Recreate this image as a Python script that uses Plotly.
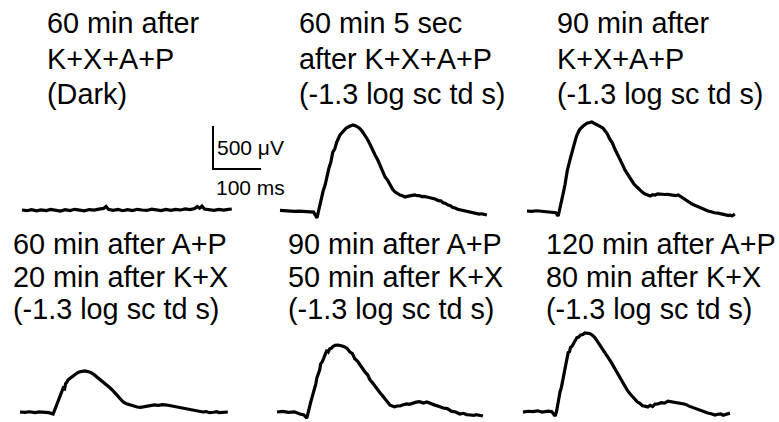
import plotly.graph_objects as go

# ---------------- data (time in ms from sweep start, amplitude in µV) ----------------
t_dark = [0, 10, 20, 30, 40, 50, 60, 70, 80, 90, 100, 110, 120, 130, 140, 150, 160, 170, 175, 180,
          190, 200, 210, 220, 230, 240, 250, 260, 270, 280, 290, 300, 310, 320, 330, 340, 350,
          360, 365, 370, 375, 380, 390, 400, 410, 420, 430, 437]
v_dark = [0, -8, 4, -10, 2, -6, 6, -4, -12, 3, -6, 8, -3, -10, 5, -2, 10, 18, 40, 8,
          -4, 6, -8, 4, -6, 8, 0, -5, 10, 2, -6, 6, -3, 8, 0, 12, 4,
          18, 40, 20, 45, 12, 4, -4, 6, -2, 8, 12]

t_kxap_5s = [0, 10, 20, 30, 40, 50, 60, 70, 77, 81, 85, 90, 94, 98, 102, 106, 110, 114, 118, 125, 132, 138,
             145, 152, 158, 165, 171, 177, 182, 188, 193, 198, 204, 209, 214, 219, 225, 230, 235, 240,
             245, 250, 255, 260, 265, 270, 276, 281, 286, 290, 295, 300, 308, 317, 323, 330, 335,
             340, 345, 350, 355, 360, 365, 370, 378, 385, 390, 395, 400, 405, 410, 415, 420, 425, 431]
v_kxap_5s = [8, 2, 0, -5, -2, -8, -6, -12, -81, 30, 120, 235, 302, 420, 500, 570, 686, 720, 800, 884, 930, 965,
             985, 1000, 990, 965, 930, 884, 835, 770, 720, 651, 590, 520, 470, 395, 350, 300, 250, 221,
             200, 185, 178, 163, 170, 175, 190, 186, 178, 180, 168, 170, 160, 151, 140, 120, 118,
             95, 88, 70, 62, 40, 35, 20, 10, 0, -12, -15, -20, -25, -30, -35, -32, -40, -47]

t_kxap_90 = [0, 10, 20, 27, 40, 52, 60, 65, 69, 72, 76, 79, 84, 90, 94, 97, 101, 104, 110, 117, 125, 135,
             145, 153, 158, 162, 167, 172, 178, 183, 188, 194, 199, 204, 210, 216, 222, 229, 235, 240,
             246, 252, 257, 262, 267, 272, 277, 281, 287, 293, 298, 304, 310, 315, 322, 330, 337,
             344, 352, 360, 368, 377, 384, 390, 398, 405, 412, 418, 423, 427, 433]
v_kxap_90 = [0, -5, 3, 0, -6, -12, -20, -58, 30, 120, 220, 302, 470, 605, 700, 760, 830, 884, 950, 988, 1020, 1035,
             1010, 980, 965, 942, 900, 840, 790, 721, 670, 600, 540, 477, 420, 370, 320, 279, 245, 220,
             198, 186, 175, 190, 185, 200, 195, 198, 192, 194, 190, 192, 180, 186, 160, 140, 110,
             81, 60, 40, 20, 0, -8, -20, -25, -35, -40, -50, -48, -58, -35]

t_ap60 = [0, 10, 20, 31, 40, 50, 60, 69, 72, 74, 77, 79, 82, 84, 87, 90, 93, 95, 98, 100, 105, 110, 115,
          119, 123, 127, 131, 135, 141, 147, 153, 160, 167, 174, 181, 188, 195, 202, 208, 215, 222,
          230, 237, 244, 251, 258, 265, 271, 280, 288, 297, 306, 314, 323, 331, 340, 350, 360, 370,
          381, 388, 395, 403, 410, 415, 420, 426, 433]
v_ap60 = [0, -4, 3, -6, 2, -4, -8, -23, 20, 40, 90, 116, 160, 200, 230, 279, 270, 330, 350, 372, 395, 420, 440,
          453, 465, 470, 468, 477, 470, 460, 440, 407, 385, 350, 320, 279, 240, 195, 160, 116, 95,
          80, 66, 58, 55, 62, 70, 70, 82, 78, 85, 81, 72, 65, 55, 47, 40, 25, 15,
          0, 5, -8, -3, 4, -8, -6, 2, 0]

t_ap90 = [0, 12, 24, 36, 48, 56, 62, 65, 67, 70, 73, 76, 78, 81, 83, 86, 89, 91, 94, 97, 99, 102, 104,
          107, 110, 113, 116, 121, 127, 134, 140, 146, 152, 157, 162, 168, 173, 178, 184, 189, 194,
          199, 204, 210, 215, 220, 225, 230, 235, 240, 245, 250, 256, 263, 270, 276, 283, 290, 297,
          305, 312, 320, 329, 338, 346, 355, 363, 372, 381, 388, 395, 403, 410, 415, 420, 425, 429]
v_ap90 = [0, 6, -4, 2, -23, -35, -70, -20, 40, 110, 163, 230, 280, 330, 395, 440, 490, 560, 581, 620, 650, 700, 721,
          700, 735, 740, 760, 775, 779, 770, 760, 740, 698, 680, 620, 590, 547, 500, 460, 430, 372,
          340, 300, 260, 221, 190, 150, 110, 81, 70, 60, 70, 70, 85, 95, 90, 105, 115, 120,
          105, 116, 95, 80, 65, 47, 40, 10, 0, -23, -15, -30, -35, -40, -30, -35, -45, -47]

t_ap120 = [0, 10, 20, 30, 40, 52, 60, 67, 70, 72, 75, 77, 80, 83, 86, 88, 91, 94, 97, 99, 102, 104, 108,
           112, 116, 120, 125, 129, 135, 140, 145, 150, 155, 160, 166, 171, 176, 182, 187, 192, 197,
           202, 207, 212, 217, 222, 228, 233, 238, 244, 249, 254, 260, 265, 270, 275, 281, 288, 295,
           302, 310, 320, 329, 338, 346, 355, 364, 373, 379, 385, 392, 400, 406, 412, 417, 422, 427, 431]
v_ap120 = [0, 10, 5, 15, 0, 12, 4, -47, 10, 80, 160, 233, 290, 380, 440, 500, 600, 698, 710, 760, 770, 791, 830,
           872, 880, 905, 910, 930, 925, 920, 900, 872, 830, 790, 745, 698, 650, 600, 550, 500, 450,
           400, 350, 302, 260, 220, 180, 151, 120, 100, 75, 70, 60, 80, 65, 93, 95, 110, 105,
           128, 120, 115, 105, 93, 70, 50, 30, 12, 0, -10, -20, -35, -25, -20, -38, -30, -25, -12]

panel_times = [t_dark, t_kxap_5s, t_kxap_90, t_ap60, t_ap90, t_ap120]
panel_values = [v_dark, v_kxap_5s, v_kxap_90, v_ap60, v_ap90, v_ap120]

panel_labels = [
    ["60 min after", "K+X+A+P", "(Dark)"],
    ["60 min 5 sec", "after K+X+A+P", "(-1.3 log sc td s)"],
    ["90 min after", "K+X+A+P", "(-1.3 log sc td s)"],
    ["60 min after A+P", "20 min after K+X", "(-1.3 log sc td s)"],
    ["90 min after A+P", "50 min after K+X", "(-1.3 log sc td s)"],
    ["120 min after A+P", "80 min after K+X", "(-1.3 log sc td s)"],
]

scale_time_ms = 100
scale_amp_uv = 500
scale_labels = ["500 μV", "100 ms"]

# ---------------- layout geometry ----------------
W, H = 779, 422
PX_PER_MS = 0.48
PX_PER_UV = 0.086
FONT = "Liberation Sans, Arial, Helvetica, sans-serif"
TXT = 28.8

# (sweep start x px, baseline y px, text left x px, text line y px list, right extent px)
geom = [
    (22, 210, 45, [23.5, 58.5, 93.5], 247),
    (280, 211, 297, [23.5, 58.5, 93.5], 235),
    (527, 211, 555, [23.5, 58.5, 93.5], 235),
    (20, 412, 11, [244, 276.5, 309], 235),
    (277, 412, 286, [244, 276.5, 309], 235),
    (523, 413, 544, [244, 276.5, 309], 235),
]

fig = go.Figure()
layout = dict(
    width=W, height=H,
    margin=dict(l=0, r=0, t=0, b=0),
    paper_bgcolor="white", plot_bgcolor="rgba(0,0,0,0)",
    showlegend=False,
    font=dict(family=FONT, color="black"),
)
annotations = []

LEFT, BELOW, ABOVE = 10, 10, 100
for i, ((xs, yb, tx, tys, right), ts, vs, lines) in enumerate(zip(geom, panel_times, panel_values, panel_labels)):
    n = i + 1
    xa = "x" if n == 1 else f"x{n}"
    ya = "y" if n == 1 else f"y{n}"
    fig.add_trace(go.Scatter(x=ts, y=vs, mode="lines", xaxis=xa, yaxis=ya,
                             line=dict(color="black", width=3.2), hoverinfo="skip"))
    layout["xaxis" if n == 1 else f"xaxis{n}"] = dict(
        domain=[(xs - LEFT) / W, (xs + right) / W],
        range=[-LEFT / PX_PER_MS, right / PX_PER_MS],
        visible=False, anchor=ya)
    layout["yaxis" if n == 1 else f"yaxis{n}"] = dict(
        domain=[max(0, 1 - (yb + BELOW) / H), 1 - (yb - ABOVE) / H],
        range=[-BELOW / PX_PER_UV, ABOVE / PX_PER_UV],
        visible=False, anchor=xa)
    for line, ty in zip(lines, tys):
        annotations.append(dict(
            text=line, x=tx / W, y=1 - ty / H, xref="paper", yref="paper",
            xanchor="left", yanchor="middle", showarrow=False,
            font=dict(size=TXT, family=FONT, color="black")))

# scale bar drawn in the first panel's axes (same ms / µV scale)
xs1, yb1 = geom[0][0], geom[0][1]
bar_x_px, bar_y_px = 213, 169
bar_t0 = (bar_x_px - xs1) / PX_PER_MS
bar_v0 = (yb1 - bar_y_px) / PX_PER_UV
fig.add_trace(go.Scatter(x=[bar_t0, bar_t0, bar_t0 + scale_time_ms],
                         y=[bar_v0 + scale_amp_uv, bar_v0, bar_v0], mode="lines",
                         xaxis="x", yaxis="y", line=dict(color="black", width=2),
                         hoverinfo="skip"))
annotations.append(dict(text=scale_labels[0], x=bar_t0 + 5, y=bar_v0 + scale_amp_uv * 0.5,
                        xref="x", yref="y", xanchor="left", yanchor="middle", showarrow=False,
                        font=dict(size=21, family=FONT, color="black")))
annotations.append(dict(text=scale_labels[1], x=bar_t0 + 2, y=bar_v0 - 210,
                        xref="x", yref="y", xanchor="left", yanchor="middle", showarrow=False,
                        font=dict(size=21, family=FONT, color="black")))

layout["annotations"] = annotations
fig.update_layout(**layout)
fig.write_html("out.html", config={"displayModeBar": False, "staticPlot": True},
               post_script="document.body.style.margin='0';document.body.style.overflow='hidden';")
